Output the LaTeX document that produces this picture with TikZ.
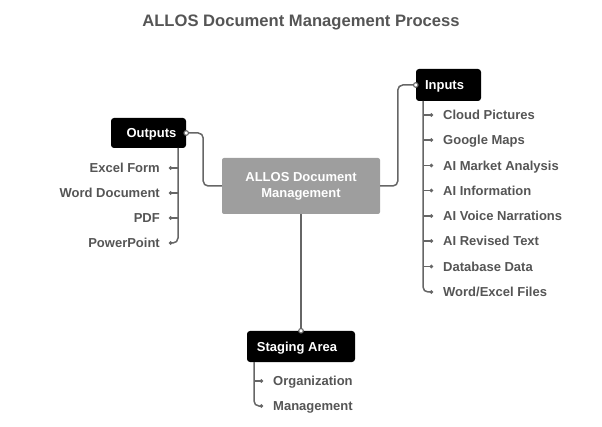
\documentclass[tikz,border=0pt]{standalone}
\usepackage{fontspec}
\setmainfont{Liberation Sans}
\usetikzlibrary{arrows.meta}
\definecolor{linec}{HTML}{666666}
\definecolor{textc}{HTML}{555555}
\definecolor{cenc}{HTML}{9E9E9E}
\begin{document}
\begin{tikzpicture}[x=1pt,y=-1pt,
  conn/.style={draw=linec, line width=1.5pt, rounded corners=5pt},
  dotend/.style={-{Circle[length=3.4pt]}},
  port/.style={draw=linec, fill=white, line width=1.1pt},
  item/.style={text=textc, font=\bfseries\fontsize{13}{15}\selectfont, inner sep=0pt, text height=9.3pt, text depth=0pt},
  blk/.style={fill=black, text=white, rounded corners=3pt, font=\bfseries\fontsize{13}{15}\selectfont, inner sep=0pt, text height=9.3pt, text depth=0pt},
]
\useasboundingbox (0,0) rectangle (602,427);
\node[text=textc, font=\bfseries\fontsize{16.6}{19}\selectfont] (title) at (301,22) {ALLOS Document Management Process};

\node[fill=cenc, text=white, rounded corners=2pt, minimum width=158pt, minimum height=56pt, align=center,
  font=\bfseries\fontsize{13}{16}\selectfont, inner sep=0pt] (cen) at (301,186) {ALLOS Document\\Management};

\node[blk, minimum width=75pt, minimum height=30pt] (out) at (148.5,133) {\hspace*{6pt}Outputs};
\node[blk, minimum width=65pt, minimum height=32pt] (inp) at (448.5,85) {Inputs\hspace*{8pt}};
\node[blk, minimum width=108pt, minimum height=31pt] (stg) at (301,346.5) {Staging Area\hspace*{8pt}};

% outputs items
\node[item, anchor=east] (o1) at (160,168) {Excel Form};
\node[item, anchor=east] (o2) at (160,193) {Word Document};
\node[item, anchor=east] (o3) at (160,218) {PDF};
\node[item, anchor=east] (o4) at (160,243) {PowerPoint};

% inputs items
\node[item, anchor=west] (i1) at (443,115) {Cloud Pictures};
\node[item, anchor=west] (i2) at (443,140) {Google Maps};
\node[item, anchor=west] (i3) at (443,165.5) {AI Market Analysis};
\node[item, anchor=west] (i4) at (443,190.5) {AI Information};
\node[item, anchor=west] (i5) at (443,216) {AI Voice Narrations};
\node[item, anchor=west] (i6) at (443,241) {AI Revised Text};
\node[item, anchor=west] (i7) at (443,266.5) {Database Data};
\node[item, anchor=west] (i8) at (443,292) {Word/Excel Files};

% staging items
\node[item, anchor=west] (s1) at (273,381) {Organization};
\node[item, anchor=west] (s2) at (273,406) {Management};

% main connectors
\draw[conn] (out.east) -- ++(17,0) |- (cen.west);
\draw[conn] (inp.west) -- ++(-18,0) |- (cen.east);
\draw[conn] (stg.north) -- (cen.south);
\draw[port] (out.east) circle (2.3pt);
\draw[port] (inp.west) circle (2.3pt);
\draw[port] (stg.north) circle (2.3pt);

% output tree
\coordinate (ob) at (178,148);
\foreach \n in {o1,o2,o3}
  \draw[conn, dotend] (\n.east -| ob) -- ([xshift=9pt]\n.east);
\draw[conn, dotend] (ob) |- ([xshift=9pt]o4.east);

% input tree
\coordinate (ib) at (423,101);
\foreach \n in {i1,i2,i3,i4,i5,i6,i7}
  \draw[conn, dotend] (\n.west -| ib) -- ([xshift=-10pt]\n.west);
\draw[conn, dotend] (ib) |- ([xshift=-10pt]i8.west);

% staging tree
\coordinate (sb) at (254,362);
\draw[conn, dotend] (s1.west -| sb) -- ([xshift=-10pt]s1.west);
\draw[conn, dotend] (sb) |- ([xshift=-10pt]s2.west);
\end{tikzpicture}
\end{document}
